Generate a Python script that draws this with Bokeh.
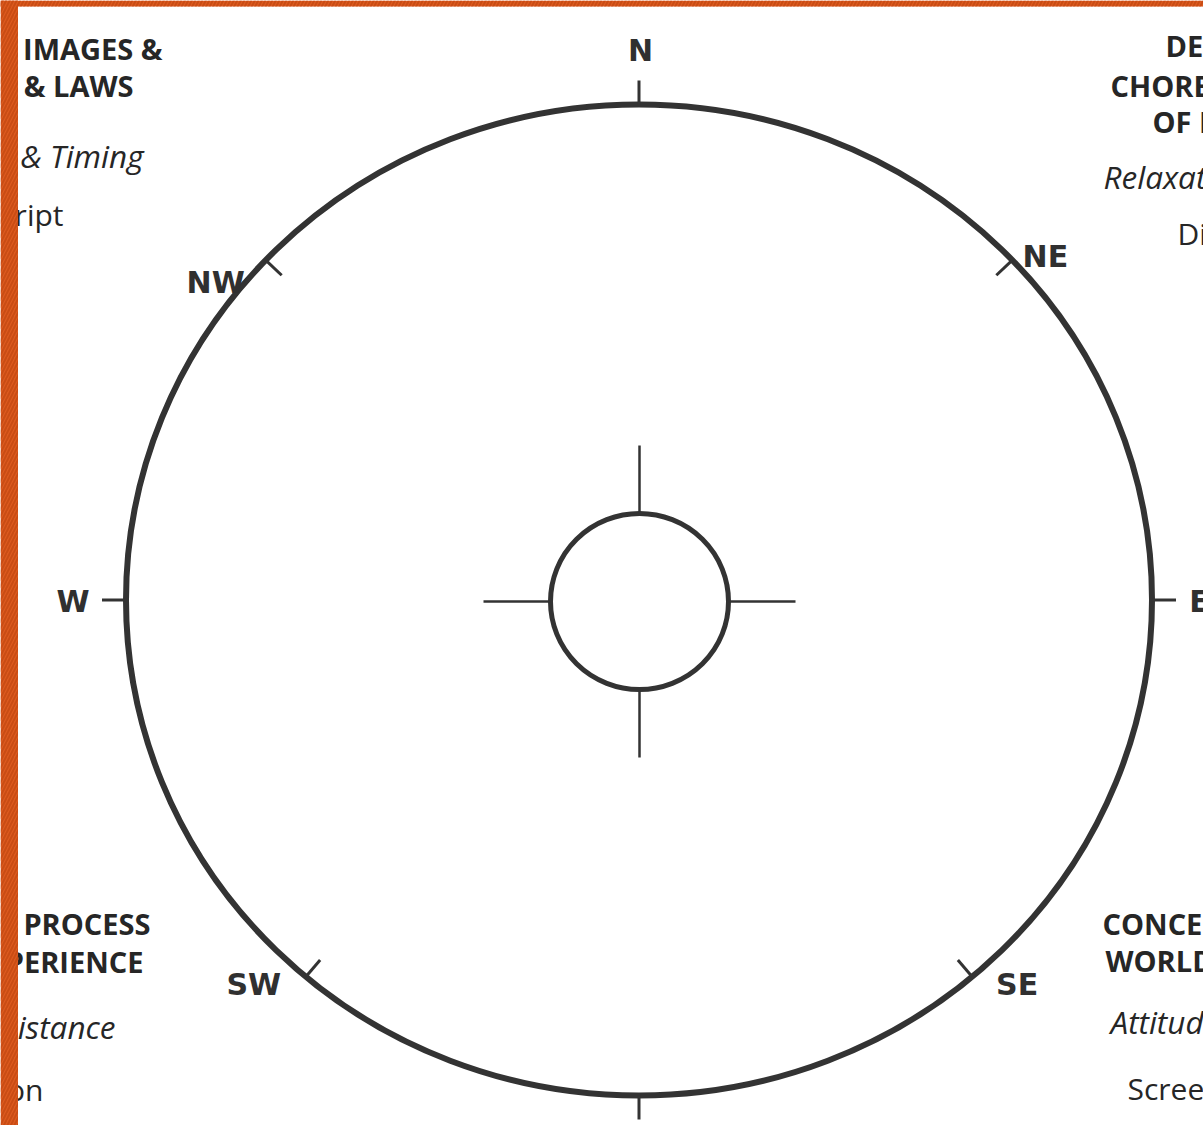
import numpy as np
from bokeh.plotting import figure
from bokeh.models import Range1d, BoxAnnotation
from bokeh.core.properties import value
from bokeh.embed import file_html
from bokeh.resources import INLINE

# ---------------- data ----------------
directions = ["N", "NE", "E", "SE", "S", "SW", "W", "NW"]
# angle of each direction's tick on the outer ring, degrees counter-clockwise from east
tick_angles = [90, 43.3, 0, -49.5, -90, 229.5, 180, 136.7]

left_bold = ["IMAGES &", "& LAWS", "PROCESS", "PERIENCE"]
left_italic = ["& Timing", "istance"]
left_regular = ["ript", "on"]
right_bold = ["DE", "CHORE", "OF I", "CONCE", "WORLD"]
right_italic = ["Relaxat", "Attitud"]
right_regular = ["Di", "Scree"]

# ---------------- layout (pixel coordinates of the picture) ----------------
W, H = 1203, 1125
CX, CY = 638.5, 599.5          # ring centre
RX, RY = 513.0, 495.5          # outer ring radii
ICX, ICY, IR = 639.0, 601.0, 89.0
INK = "#333333"
DY = -12                       # baseline correction

label_offset = {"N": (1.5, -54), "NE": (33, -4), "E": (47.5, 1.5), "SE": (45, 8),
                "S": (0, 60), "SW": (-52, 8), "W": (-53, 1.5), "NW": (-50, 22)}

left_bold_xy = [(162, 60), (133, 97), (150, 935), (143, 973)]
left_italic_xy = [(143, 167), (115, 1038)]
left_regular_xy = [(63, 226), (43, 1101)]
right_bold_xy = [(1165, 57), (1110, 97), (1152, 133), (1102, 935), (1105, 972)]
right_italic_xy = [(1103, 188), (1110, 1033)]
right_regular_xy = [(1177, 245), (1127, 1100)]

p = figure(width=W, height=H, x_range=Range1d(0, W), y_range=Range1d(H, 0),
           output_backend="svg", toolbar_location=None, min_border=0,
           x_axis_location=None, y_axis_location=None,
           outline_line_color=None, background_fill_color="white", border_fill_color="white")
p.grid.visible = False

# outer ring
p.ellipse(x=[CX], y=[CY], width=[2 * RX], height=[2 * RY], fill_color=None,
          line_color=INK, line_width=6)

# ticks on outer ring
x0s, y0s, x1s, y1s = [], [], [], []
for d, a in zip(directions, tick_angles):
    t = np.radians(a)
    px, py = CX + RX * np.cos(t), CY - RY * np.sin(t)
    ux, uy = np.cos(t), -np.sin(t)
    if len(d) == 1:   # cardinal: outward
        L = 24
        x0s.append(px); y0s.append(py); x1s.append(px + ux * L); y1s.append(py + uy * L)
    else:             # intercardinal: inward
        L = 22
        x0s.append(px); y0s.append(py); x1s.append(px - ux * L); y1s.append(py - uy * L)
p.segment(x0=x0s, y0=y0s, x1=x1s, y1=y1s, line_color=INK, line_width=3)

# direction labels
lx, ly, lt = [], [], []
for d, a in zip(directions, tick_angles):
    if d == "S":
        continue
    t = np.radians(a)
    px, py = CX + RX * np.cos(t), CY - RY * np.sin(t)
    ox, oy = label_offset[d]
    lx.append(px + ox); ly.append(py + oy); lt.append(d)
p.text(x=lx, y=ly, text=lt, text_align="center", text_baseline="middle",
       text_font=value("DejaVu Sans"), text_font_style="bold", text_font_size="30px",
       text_color="#303030")

# inner circle + crosshair
p.ellipse(x=[ICX], y=[ICY], width=[2 * IR], height=[2 * IR - 2], fill_color=None,
          line_color=INK, line_width=5)
arm = 67
p.segment(x0=[ICX - IR - arm, ICX + IR, ICX, ICX],
          y0=[ICY, ICY, ICY - IR - arm, ICY + IR],
          x1=[ICX - IR, ICX + IR + arm, ICX, ICX],
          y1=[ICY, ICY, ICY - IR, ICY + IR + arm],
          line_color=INK, line_width=2.5)

# side texts
def put(texts, xy, align, style, size):
    p.text(x=[q[0] for q in xy], y=[q[1] + DY for q in xy], text=texts,
           text_align=align, text_baseline="alphabetic",
           text_font=value("Open Sans"), text_font_style=style,
           text_font_size=size, text_color="#262626")

put(left_bold, left_bold_xy, "right", "bold", "29px")
put(left_italic, left_italic_xy, "right", "italic", "31.5px")
put(left_regular, left_regular_xy, "right", "normal", "30px")
put(right_bold, right_bold_xy, "left", "bold", "29px")
put(right_italic, right_italic_xy, "left", "italic", "31.5px")
put(right_regular, right_regular_xy, "left", "normal", "30px")

# orange striped border on the left and top
for box in [dict(left=0, right=17.5, top=0, bottom=H), dict(left=0, right=W, top=0, bottom=6)]:
    p.add_layout(BoxAnnotation(**box, fill_color="#DD5A1E", fill_alpha=1.0,
                               hatch_pattern="/", hatch_color="#C0460F", hatch_alpha=0.7,
                               hatch_scale=7, hatch_weight=2, line_color=None))

open("out.html", "w").write(file_html(p, INLINE))
